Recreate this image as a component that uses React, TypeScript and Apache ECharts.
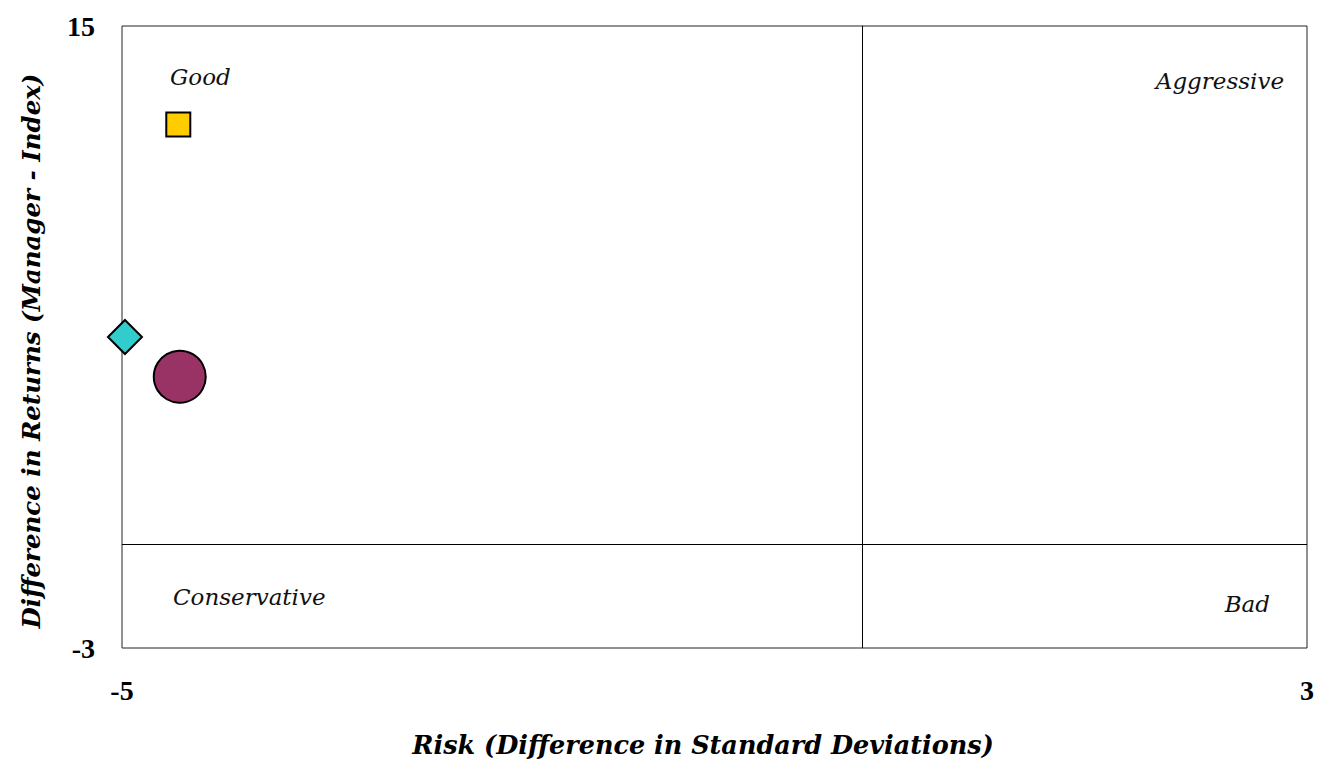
import React, { useEffect, useRef } from "react";
import * as echarts from "echarts";

// Risk / return points: [risk difference, return difference]
const managerPoint = [-4.62, 12.15];
const indexPoint = [-4.98, 6.0];
const peerPoint = [-4.61, 4.85];

const xRange = [-5, 3];
const yRange = [-3, 15];
const quadrantSplit = [0, 0];

const quadrantLabels = ["Good", "Aggressive", "Conservative", "Bad"];

const TICK_FONT = "'Liberation Serif', serif";
const TEXT_FONT = "'DejaVu Serif', serif";

export default function App() {
  const ref = useRef<HTMLDivElement>(null);

  useEffect(() => {
    if (!ref.current) return;
    const chart = echarts.init(ref.current, undefined, { renderer: "svg" });
    const labelStyle = { fontFamily: TEXT_FONT, fontStyle: "italic", fontSize: 23, fill: "#111" };
    chart.setOption({
      animation: false,
      backgroundColor: "#fff",
      grid: {
        left: 122,
        top: 26,
        right: 11,
        bottom: 117,
        show: true,
        borderColor: "#222",
        borderWidth: 1,
      },
      xAxis: {
        type: "value",
        min: xRange[0],
        max: xRange[1],
        interval: xRange[1] - xRange[0],
        axisLine: { show: false },
        axisTick: { show: false },
        splitLine: { show: false },
        axisLabel: {
          margin: 28,
          fontFamily: TICK_FONT,
          fontWeight: "bold",
          fontSize: 28,
          color: "#000",
        },
      },
      yAxis: {
        type: "value",
        min: yRange[0],
        max: yRange[1],
        interval: yRange[1] - yRange[0],
        axisLine: { show: true, lineStyle: { color: "#555", width: 1 } },
        axisTick: { show: false },
        splitLine: { show: false },
        axisLabel: {
          margin: 27,
          fontFamily: TICK_FONT,
          fontWeight: "bold",
          fontSize: 28,
          color: "#000",
        },
      },
      graphic: [
        {
          type: "text",
          x: 703,
          y: 745,
          style: {
            text: "Risk (Difference in Standard Deviations)",
            fontFamily: TEXT_FONT,
            fontStyle: "italic",
            fontWeight: "bold",
            fontSize: 25.5,
            fill: "#000",
            align: "center",
            verticalAlign: "middle",
          },
        },
        {
          type: "text",
          x: 31,
          y: 351,
          rotation: Math.PI / 2,
          style: {
            text: "Difference in Returns (Manager - Index)",
            fontFamily: TEXT_FONT,
            fontStyle: "italic",
            fontWeight: "bold",
            fontSize: 24.5,
            fill: "#000",
            align: "center",
            verticalAlign: "middle",
          },
        },
        { type: "text", x: 170, y: 77, style: { ...labelStyle, text: quadrantLabels[0], verticalAlign: "middle" } },
        { type: "text", x: 1284, y: 81, style: { ...labelStyle, text: quadrantLabels[1], align: "right", verticalAlign: "middle" } },
        { type: "text", x: 173, y: 597, style: { ...labelStyle, text: quadrantLabels[2], verticalAlign: "middle" } },
        { type: "text", x: 1270, y: 604, style: { ...labelStyle, text: quadrantLabels[3], align: "right", verticalAlign: "middle" } },
      ],
      series: [
        {
          type: "scatter",
          data: [managerPoint],
          symbol: "rect",
          symbolSize: 24,
          itemStyle: { color: "#FFCC00", borderColor: "#000", borderWidth: 2, opacity: 1 },
          markLine: {
            silent: true,
            symbol: "none",
            label: { show: false },
            lineStyle: { color: "#000", width: 1, type: "solid" },
            data: [{ xAxis: quadrantSplit[0] }, { yAxis: quadrantSplit[1] }],
          },
          z: 3,
        },
        {
          type: "scatter",
          data: [indexPoint],
          symbol: "diamond",
          symbolSize: [34, 34],
          itemStyle: { color: "#33CCCC", borderColor: "#000", borderWidth: 2, opacity: 1 },
          z: 3,
        },
        {
          type: "scatter",
          data: [peerPoint],
          symbol: "circle",
          symbolSize: 52,
          itemStyle: { color: "#993366", borderColor: "#000", borderWidth: 2, opacity: 1 },
          z: 3,
        },
      ],
    });
    return () => chart.dispose();
  }, []);

  return <div ref={ref} style={{ width: 1318, height: 765, position: "absolute", left: 0, top: 0 }} />;
}
